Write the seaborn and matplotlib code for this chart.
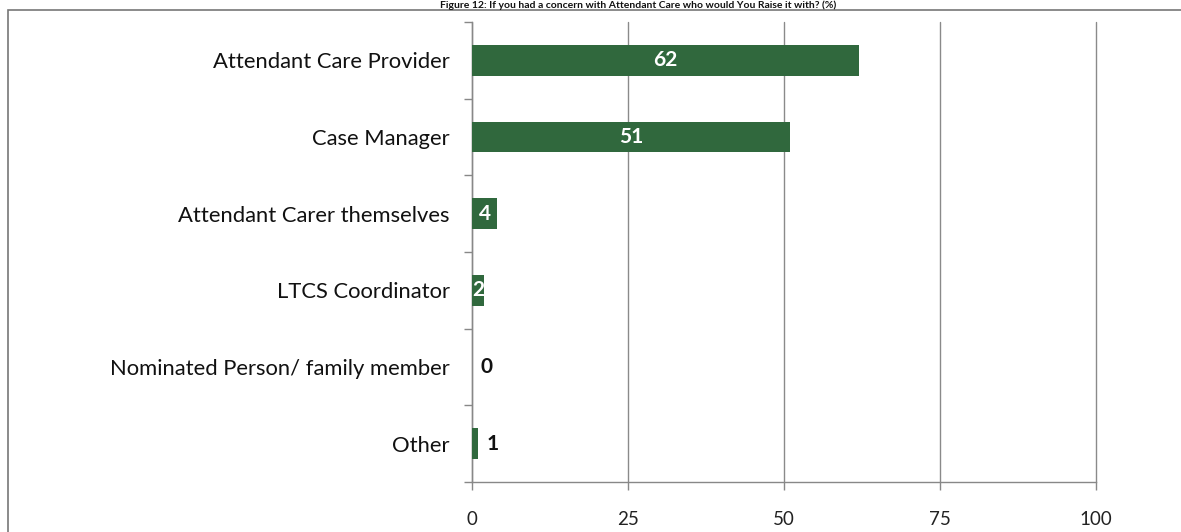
import matplotlib
matplotlib.use("Agg")
import matplotlib.pyplot as plt
from matplotlib.patches import Rectangle
from matplotlib.ticker import FixedLocator
import seaborn as sns
import pandas as pd

categories = [
    "Attendant Care Provider",
    "Case Manager",
    "Attendant Carer themselves",
    "LTCS Coordinator",
    "Nominated Person/ family member",
    "Other",
]
values = [62, 51, 4, 2, 0, 1]
x_ticks = [0, 25, 50, 75, 100]
title = "Figure 12: If you had a concern with Attendant Care who would You Raise it with? (%)"

sns.set_theme(style="white")
plt.rcParams["font.family"] = ["Lato", "DejaVu Sans"]

df = pd.DataFrame({"category": categories, "value": values})

fig = plt.figure(figsize=(11.81, 5.32), dpi=100)
ax = fig.add_axes([472 / 1181, 1 - 482 / 532, (1096 - 472) / 1181, (482 - 22) / 532])

bar_color = "#30683d"
sns.barplot(data=df, x="value", y="category", orient="h", color=bar_color,
            width=0.4, saturation=1, linewidth=0, ax=ax, zorder=3)

ax.set_xlim(0, 100)
ax.set_ylim(len(categories) - 0.5, -0.5)
ax.set_xticks(x_ticks)
ax.set_xticklabels([str(t) for t in x_ticks], fontsize=13.5, color="#222222")
ax.set_xlabel("")
ax.set_ylabel("")
ax.tick_params(axis="y", labelsize=15.8, length=0, pad=16, labelcolor="#111111")
ax.tick_params(axis="x", length=6, width=1, color="#888888", direction="out", pad=15, bottom=True)
ax.yaxis.set_minor_locator(FixedLocator([i - 0.5 for i in range(len(categories) + 1)]))
ax.tick_params(axis="y", which="minor", length=6, width=1, color="#888888", left=True)

ax.xaxis.grid(True, color="#8a8a8a", linewidth=1, zorder=0)
for gl in ax.get_xgridlines():
    gl.set_clip_on(False)
ax.yaxis.grid(False)
for side in ["top", "right"]:
    ax.spines[side].set_visible(False)
for side in ["left", "bottom"]:
    ax.spines[side].set_color("#888888")
    ax.spines[side].set_linewidth(1)

# value labels: inside the bar in white when it fits, else just outside in black
for i, v in enumerate(values):
    if v >= 2:
        ax.text(v / 2, i, str(v), ha="center", va="center", color="white",
                fontsize=15, fontweight="bold", zorder=4)
    else:
        ax.text(v + 1.3, i, str(v), ha="left", va="center", color="#111111",
                fontsize=15, fontweight="bold", zorder=4)

# outer chart frame
fig.patches.append(Rectangle((8 / 1181, -0.05), 1.2, 1 - 10 / 532 + 0.05,
                             transform=fig.transFigure, fill=False,
                             edgecolor="#777777", linewidth=1.2))

fig.text(0.54, 1, title, ha="center", va="top", fontsize=7.5,
         fontweight="bold", color="#111111")

fig.savefig("out.png", dpi=100)
